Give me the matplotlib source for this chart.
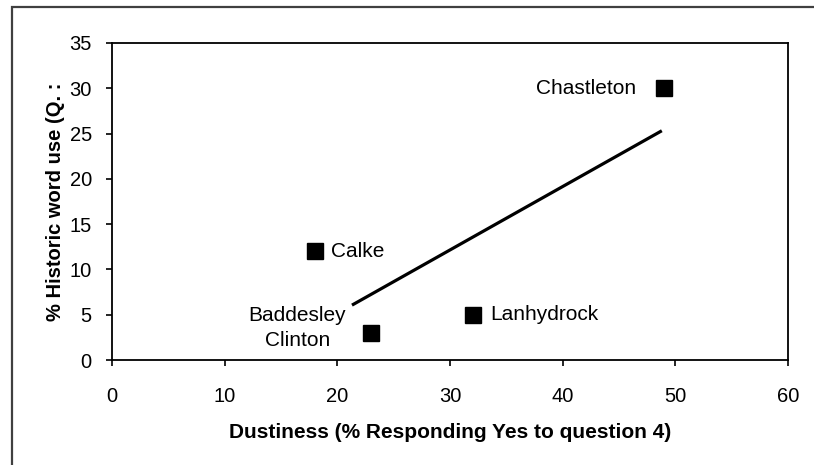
"""Dustiness vs historic word use scatter with trend line."""

import matplotlib
matplotlib.use("Agg")
import matplotlib.pyplot as plt
import numpy as np
from matplotlib.patches import Rectangle

plt.rcParams["font.family"] = ["Liberation Sans", "DejaVu Sans"]

# data
houses = ["Chastleton", "Calke", "Baddesley\nClinton", "Lanhydrock"]
dustiness = [49, 18, 23, 32]
word_use = [30, 12, 3, 5]
trend_span = [21.3, 48.8]

# label offsets in points (x, y) and alignment per house
label_offsets = [(-20, 0), (12, 0), (-53, 3.5), (13, 0)]
label_ha = ["right", "left", "center", "left"]

fig = plt.figure(figsize=(8.14, 4.65), dpi=100)
fig.patches.append(
    Rectangle((12 / 814, -0.1), 1.2, 0.1 + (465 - 7) / 465,
              transform=fig.transFigure, fill=False,
              edgecolor="#404040", linewidth=1.6)
)

ax = fig.add_axes([112 / 814, 105 / 465, 676 / 814, 317 / 465])

slope, intercept = np.polyfit(dustiness, word_use, 1)
tx = np.array(trend_span)
ax.plot(tx, slope * tx + intercept, color="black", linewidth=2.3,
        solid_capstyle="butt")

ax.plot(dustiness, word_use, linestyle="none", marker="s",
        markersize=11, color="black")

for name, x, y, off, ha in zip(houses, dustiness, word_use, label_offsets, label_ha):
    ax.annotate(name, (x, y), xytext=off, textcoords="offset points",
                ha=ha, va="center", fontsize=15, linespacing=1.45)

ax.set_xlim(0, 60)
ax.set_ylim(0, 35)
ax.set_xticks(range(0, 61, 10))
ax.set_yticks(range(0, 36, 5))
ax.tick_params(direction="out", length=4.5, width=1.2, labelsize=14.5)
ax.tick_params(axis="x", pad=15)
ax.tick_params(axis="y", pad=10)
for side in ax.spines.values():
    side.set_linewidth(1.3)
    side.set_color("black")

ax.set_xlabel("Dustiness (% Responding Yes to question 4)",
              fontsize=15, fontweight="bold", labelpad=12)
ax.set_ylabel("% Historic word use (Q. :", fontsize=14.5,
              fontweight="bold", labelpad=3)

fig.savefig("out.png", dpi=100)
